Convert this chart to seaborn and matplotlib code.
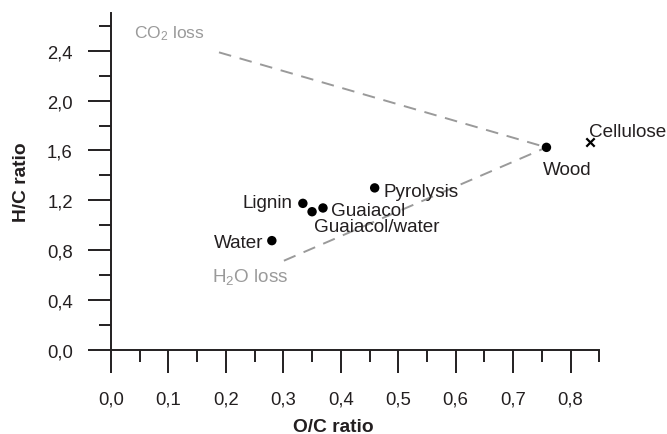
import numpy as np
import pandas as pd
import matplotlib
matplotlib.use("Agg")
import matplotlib.pyplot as plt
from matplotlib.ticker import FixedLocator, FuncFormatter
import seaborn as sns

# Van Krevelen data: atomic O/C and H/C ratios
samples = ["Lignin", "Guaiacol/water", "Guaiacol", "Water", "Pyrolysis", "Wood"]
oc_ratio = [0.334, 0.350, 0.369, 0.280, 0.459, 0.758]
hc_ratio = [1.176, 1.109, 1.139, 0.877, 1.300, 1.625]

cellulose_oc = [0.833]
cellulose_hc = [1.666]

# Deoxygenation pathways ending at wood
co2_loss_oc = [0.188, 0.758]
co2_loss_hc = [2.387, 1.625]
h2o_loss_oc = [0.301, 0.758]
h2o_loss_hc = [0.716, 1.625]

x_major = [0.0, 0.1, 0.2, 0.3, 0.4, 0.5, 0.6, 0.7, 0.8]
x_minor = [0.05, 0.15, 0.25, 0.35, 0.45, 0.55, 0.65, 0.75, 0.85]
y_major = [0.0, 0.4, 0.8, 1.2, 1.6, 2.0, 2.4]
y_minor = [0.2, 0.6, 1.0, 1.4, 1.8, 2.2, 2.6]

sns.set_theme(style="ticks")
plt.rcParams["font.family"] = ["Liberation Sans", "DejaVu Sans"]

ink = "#231f20"
grey = "#9a9a9a"

fig = plt.figure(figsize=(6.67, 4.35), dpi=100)
ax = fig.add_axes([0.1664, 0.1931, 0.7321, 0.7740])

df = pd.DataFrame({"sample": samples, "oc": oc_ratio, "hc": hc_ratio})

# dashed loss vectors
dash_kw = dict(color=grey, lw=1.4, dashes=(6.5, 4.5))
ax.plot(co2_loss_oc, co2_loss_hc, **dash_kw)
ax.plot(h2o_loss_oc, h2o_loss_hc, **dash_kw)

sns.scatterplot(data=df, x="oc", y="hc", ax=ax, color="black", s=46,
                edgecolor="none", zorder=3, legend=False)
sns.scatterplot(x=cellulose_oc, y=cellulose_hc, ax=ax, marker="x",
                color="black", s=36, linewidth=1.6, zorder=3, legend=False)

label_fs = 13.6
# (dx, dy, ha) in points relative to each point
offsets = {
    "Lignin": (-7.2, -2.9, "right"),
    "Guaiacol/water": (1.2, -14.1, "left"),
    "Guaiacol": (5.5, -4.8, "left"),
    "Water": (-6.0, -4.8, "right"),
    "Pyrolysis": (6.5, -5.5, "left"),
    "Wood": (-2.4, -19.2, "left"),
}
for name, x, y in zip(samples, oc_ratio, hc_ratio):
    dx, dy, ha = offsets[name]
    ax.annotate(name, (x, y), xytext=(dx, dy), textcoords="offset points",
                ha=ha, va="baseline", fontsize=label_fs, color=ink)

ax.annotate("Cellulose", (cellulose_oc[0], cellulose_hc[0]), xytext=(-0.7, 4.3),
            textcoords="offset points", ha="left", va="baseline",
            fontsize=label_fs, color=ink)

ax.annotate(r"CO$\mathregular{_2}$ loss", (co2_loss_oc[0], co2_loss_hc[0]),
            xytext=(-61, 10.8), textcoords="offset points", ha="left",
            va="baseline", fontsize=12.5, color=grey)
ax.annotate(r"H$\mathregular{_2}$O loss", (h2o_loss_oc[0], h2o_loss_hc[0]),
            xytext=(-52, -14.8), textcoords="offset points", ha="left",
            va="baseline", fontsize=label_fs, color=grey)

ax.set_xlim(0, 0.85)
ax.set_ylim(0, 2.7)

comma = FuncFormatter(lambda v, _: f"{v:.1f}".replace(".", ","))
ax.xaxis.set_major_locator(FixedLocator(x_major))
ax.xaxis.set_minor_locator(FixedLocator(x_minor))
ax.yaxis.set_major_locator(FixedLocator(y_major))
ax.yaxis.set_minor_locator(FixedLocator(y_minor))
ax.xaxis.set_major_formatter(comma)
ax.yaxis.set_major_formatter(comma)

sns.despine(ax=ax)
for side in ("left", "bottom"):
    ax.spines[side].set_linewidth(1.4)
    ax.spines[side].set_color(ink)

ax.tick_params(axis="both", which="major", length=16.5, width=1.4,
               color=ink, labelcolor=ink, labelsize=13.3)
ax.tick_params(axis="both", which="minor", length=8.4, width=1.4, color=ink)
ax.tick_params(axis="x", which="major", pad=12.5)
ax.tick_params(axis="y", which="major", pad=11.0)

ax.set_xlabel("")
ax.set_ylabel("")
fig.text(0.5, 1 - 432 / 435, "O/C ratio", ha="center", va="baseline",
         fontsize=13.8, fontweight="bold", color=ink)
fig.text(26 / 667, 1 - 181.7 / 435, "H/C ratio", rotation=90,
         rotation_mode="anchor", ha="center", va="baseline",
         fontsize=13.8, fontweight="bold", color=ink)

fig.savefig("out.png", dpi=100)
